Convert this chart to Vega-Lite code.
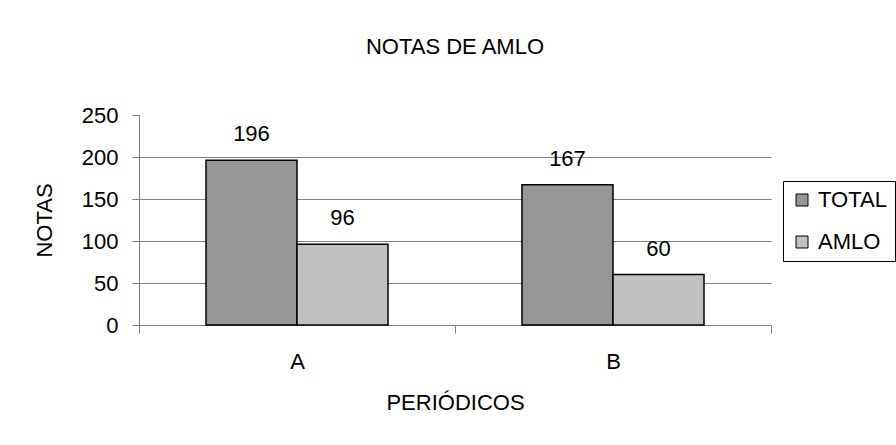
{
  "$schema": "https://vega.github.io/schema/vega-lite/v6.json",
  "width": 632,
  "height": 210,
  "autosize": {"type": "none"},
  "padding": {"left": 139, "top": 115, "right": 125, "bottom": 120},
  "background": "white",
  "title": {"text": "NOTAS DE AMLO", "fontSize": 22, "fontWeight": "normal", "font": "Liberation Sans", "color": "black", "anchor": "middle", "baseline": "alphabetic", "offset": 28},
  "data": {"values": [
    {"periodico": "A", "serie": "TOTAL", "notas": 196},
    {"periodico": "A", "serie": "AMLO", "notas": 96},
    {"periodico": "B", "serie": "TOTAL", "notas": 167},
    {"periodico": "B", "serie": "AMLO", "notas": 60}
  ]},
  "encoding": {
    "x": {"field": "periodico", "type": "nominal",
      "scale": {"paddingInner": 0, "paddingOuter": 0},
      "axis": {"title": "PERIÓDICOS", "labelAngle": 0, "tickBand": "extent", "tickSize": 8, "labelPadding": 18, "titlePadding": 20, "grid": false}},
    "xOffset": {"field": "serie", "type": "nominal", "sort": ["TOTAL", "AMLO"], "scale": {"paddingInner": 0, "paddingOuter": 0.736}},
    "y": {"field": "notas", "type": "quantitative",
      "scale": {"domain": [0, 250], "nice": false},
      "axis": {"title": "NOTAS", "values": [0, 50, 100, 150, 200, 250], "tickSize": 7, "labelPadding": 14, "titlePadding": 25,
        "grid": true, "gridColor": "#808080",
        "gridOpacity": {"condition": {"test": "datum.value == 250", "value": 0}, "value": 1}}}
  },
  "layer": [
    {"mark": {"type": "bar", "stroke": "black", "strokeWidth": 1.5},
     "encoding": {"color": {"field": "serie", "type": "nominal", "title": null,
       "scale": {"domain": ["TOTAL", "AMLO"], "range": ["#969696", "#C0C0C0"]}}}},
    {"mark": {"type": "text", "baseline": "alphabetic", "dy": -19, "fontSize": 22, "font": "Liberation Sans", "color": "black"},
     "encoding": {"text": {"field": "notas", "type": "quantitative"}}}
  ],
  "config": {
    "view": {"stroke": null},
    "axis": {"labelFont": "Liberation Sans", "labelFontSize": 22, "labelColor": "black", "titleFont": "Liberation Sans", "titleFontSize": 22, "titleFontWeight": "normal", "titleColor": "black", "domainColor": "#808080", "tickColor": "#808080", "domainWidth": 1, "tickWidth": 1, "gridWidth": 1},
    "legend": {"orient": "none", "legendX": 644, "legendY": 66, "strokeColor": "black", "strokeWidth": 1, "padding": 8, "symbolType": "square", "symbolSize": 144, "symbolStrokeColor": "black", "symbolStrokeWidth": 1, "labelFont": "Liberation Sans", "labelFontSize": 22, "labelColor": "black", "rowPadding": 20, "labelOffset": 5}
  }
}
